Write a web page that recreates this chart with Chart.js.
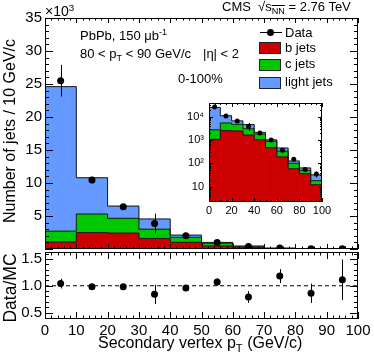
<!DOCTYPE html>
<html>
<head>
<meta charset="utf-8">
<script src="https://cdn.jsdelivr.net/npm/chart.js@4.4.0/dist/chart.umd.min.js"></script>
<style>
body { margin: 0; background: #fff; }
#wrap { position: relative; width: 374px; height: 359px; overflow: hidden; font-family: 'Liberation Sans', Arial, Helvetica, sans-serif; color: #000; }
canvas { position: absolute; left: 0; top: 0; }
.t { position: absolute; white-space: nowrap; line-height: 1; font-size: 13px; }
.sub { font-size: 70%; position: relative; top: 0.35em; }
.sup { font-size: 70%; position: relative; top: -0.5em; }
.box { position: absolute; box-sizing: border-box; width: 22px; height: 12px; border: 1px solid #222; }
.rot { position: absolute; white-space: nowrap; line-height: 1; transform: translate(-50%, -50%) rotate(-90deg); }
</style>
</head>
<body>
<div id="wrap">
  <canvas id="mainChart" width="374" height="359"></canvas>
  <canvas id="ratioChart" width="374" height="359"></canvas>
  <canvas id="insetChart" width="374" height="359"></canvas>

  <div class="t" style="left:45px;top:4px;font-size:14px;">&times;10<span class="sup">3</span></div>
  <div class="t" style="left:222px;top:0px;">CMS&nbsp;&nbsp;&radic;<span style="text-decoration:overline;">s<span class="sub">NN</span></span> = 2.76 TeV</div>
  <div class="t" style="left:80px;top:29px;">PbPb, 150 &mu;b<span class="sup">-1</span></div>
  <div class="t" style="left:80px;top:47px;">80 &lt; p<span class="sub">T</span> &lt; 90 GeV/c</div>
  <div class="t" style="left:203px;top:47px;">|&eta;| &lt; 2</div>
  <div class="t" style="left:178px;top:72px;">0-100%</div>

  <div style="position:absolute;left:260px;top:32px;width:22px;height:1px;background:#000;"></div>
  <div style="position:absolute;left:267px;top:29px;width:7px;height:7px;border-radius:50%;background:#000;"></div>
  <div class="t" style="left:285px;top:26px;">Data</div>
  <div class="box" style="left:259px;top:42px;background:#cc0000;"></div>
  <div class="t" style="left:285px;top:40.5px;">b jets</div>
  <div class="box" style="left:259px;top:59px;background:#00c800;"></div>
  <div class="t" style="left:285px;top:57px;">c jets</div>
  <div class="box" style="left:259px;top:77px;background:#6699ff;"></div>
  <div class="t" style="left:285px;top:74.5px;">light jets</div>

  <div class="rot" style="left:9.5px;top:131px;font-size:16px;">Number of jets / 10 GeV/c</div>
  <div class="rot" style="left:10.5px;top:288px;font-size:17.5px;">Data/MC</div>
  <div class="t" style="left:98px;top:335px;font-size:16px;">Secondary vertex p<span class="sub">T</span> (GeV/c)</div>
</div>

<script>
// histogram bins (GeV/c)
const binEdges = [0, 10, 20, 30, 40, 50, 60, 70, 80, 90, 100];

// MC stack, jets per bin
const bJets     = [1060, 2500, 2400, 1600, 1020, 460, 185, 58, 36, 12];
const cJets     = [1640, 2800, 2250, 1400,  750, 420, 145, 42, 14,  6];
const lightJets = [21900, 5500, 1850, 1550, 330, 120, 120, 25, 13, 14];

// data
const dataCounts = [25500, 10450, 6400, 3850, 2000, 1000, 360, 148, 54, 35];
const dataErrors = [2400, 500, 300, 1500, 150, 90, 50, 20, 9, 10];

// data / MC
const ratioValues = [1.04, 0.98, 0.98, 0.84, 0.96, 1.07, 0.79, 1.18, 0.86, 1.11];
const ratioErrors = [0.09, 0.03, 0.03, 0.18, 0.04, 0.07, 0.11, 0.13, 0.18, 0.38];
const ratioRef = 1;

// tick labels
const mainYTicks  = [0, 5000, 10000, 15000, 20000, 25000, 30000, 35000];
const ratioYTicks = [0.5, 1, 1.5];
const xTicks      = [0, 10, 20, 30, 40, 50, 60, 70, 80, 90, 100];
const insetXTicks = [0, 20, 40, 60, 80, 100];
const insetYTicks = [10, 100, 1000, 10000];

const RED = '#cc0000', GREEN = '#00c800', BLUE = '#6699ff', LINE = '#1a1a1a';
const W = 374, H = 359;

Chart.defaults.font.family = "'Liberation Sans', Arial, Helvetica, sans-serif";
Chart.defaults.color = '#000';

const centers = binEdges.slice(0, -1).map((e, i) => (e + binEdges[i + 1]) / 2);
const bc = bJets.map((v, i) => v + cJets[i]);
const total = bc.map((v, i) => v + lightJets[i]);

function range(a, b, step) {
    let out = [];
    for (let v = a; v <= b + step * 1e-6; v += step) out.push(+v.toFixed(6));
    return out;
}

function stepPoints(vals) {
    let pts = vals.map((v, i) => ({x: binEdges[i], y: v}));
    pts.push({x: binEdges[binEdges.length - 1], y: vals[vals.length - 1]});
    return pts;
}

// ROOT style frame with ticks inside
const rootFrame = {
    id: 'rootFrame',
    beforeDatasetsDraw(chart, args, o) {
        if (!o.fill) return;
        const a = chart.chartArea;
        chart.ctx.save();
        chart.ctx.fillStyle = '#fff';
        chart.ctx.fillRect(a.left, a.top, a.right - a.left, a.bottom - a.top);
        chart.ctx.restore();
    },
    afterDraw(chart, args, o) {
        const {ctx, chartArea: a} = chart;
        const x = chart.scales.x, y = chart.scales.y;
        ctx.save();
        ctx.strokeStyle = '#000';
        ctx.lineWidth = 1;
        ctx.beginPath();
        const xt = (v, len) => {
            const p = Math.round(x.getPixelForValue(v)) + 0.5;
            ctx.moveTo(p, a.bottom); ctx.lineTo(p, a.bottom - len);
            ctx.moveTo(p, a.top); ctx.lineTo(p, a.top + len);
        };
        const yt = (v, len) => {
            const p = Math.round(y.getPixelForValue(v)) + 0.5;
            ctx.moveTo(a.left, p); ctx.lineTo(a.left + len, p);
            ctx.moveTo(a.right, p); ctx.lineTo(a.right - len, p);
        };
        o.xMinor.forEach(v => xt(v, o.xLen[1]));
        o.xMajor.forEach(v => xt(v, o.xLen[0]));
        o.yMinor.forEach(v => yt(v, o.yLen[1]));
        o.yMajor.forEach(v => yt(v, o.yLen[0]));
        ctx.stroke();
        ctx.strokeRect(Math.round(a.left) + 0.5, Math.round(a.top) + 0.5,
            Math.round(a.right - a.left) - 1, Math.round(a.bottom - a.top) - 1);
        ctx.restore();
    }
};

// vertical error bars on datasets carrying an "errors" array
const errorBars = {
    id: 'errorBars',
    afterDatasetsDraw(chart) {
        const {ctx, chartArea: a} = chart;
        const y = chart.scales.y;
        chart.data.datasets.forEach((ds, i) => {
            if (!ds.errors) return;
            const meta = chart.getDatasetMeta(i);
            ctx.save();
            ctx.beginPath();
            ctx.rect(a.left, a.top, a.right - a.left, a.bottom - a.top);
            ctx.clip();
            ctx.strokeStyle = '#000';
            ctx.lineWidth = 1;
            ctx.beginPath();
            meta.data.forEach((pt, j) => {
                const v = ds.data[j].y, e = ds.errors[j];
                const px = Math.round(pt.x) + 0.5;
                ctx.moveTo(px, y.getPixelForValue(v + e));
                ctx.lineTo(px, y.getPixelForValue(Math.max(v - e, y.min)));
            });
            ctx.stroke();
            ctx.restore();
        });
    }
};

function histDatasets(pointRadius) {
    const outline = (vals, k) => ({
        type: 'line', data: stepPoints(vals), stepped: 'before', stack: 'o' + k,
        borderColor: LINE, borderWidth: 1, pointRadius: 0, fill: false
    });
    const bar = (vals, color) => ({
        type: 'bar', data: centers.map((c, i) => ({x: c, y: vals[i]})),
        backgroundColor: color, borderWidth: 0, barPercentage: 1, categoryPercentage: 1
    });
    return [
        {type: 'scatter', data: centers.map((c, i) => ({x: c, y: dataCounts[i]})), errors: dataErrors,
         pointRadius: pointRadius, pointBackgroundColor: '#000', pointBorderColor: '#000', pointBorderWidth: 0},
        outline(bJets, 1),
        outline(bc, 2),
        outline(total, 3),
        bar(bJets, RED),
        bar(cJets, GREEN),
        bar(lightJets, BLUE)
    ];
}

const common = {
    responsive: false,
    animation: false,
    events: [],
    plugins: {legend: {display: false}, tooltip: {enabled: false}}
};

// main histogram
new Chart(document.getElementById('mainChart'), {
    type: 'bar',
    data: {datasets: histDatasets(3.5)},
    options: {
        ...common,
        layout: {padding: {top: 18, right: 16, left: 0, bottom: 0}},
        plugins: {
            ...common.plugins,
            rootFrame: {xMajor: xTicks, xMinor: range(0, 100, 2), xLen: [5, 2.5],
                        yMajor: mainYTicks, yMinor: range(0, 35000, 1000), yLen: [8, 4]}
        },
        scales: {
            x: {type: 'linear', stacked: true, min: 0, max: 100, offset: false,
                grid: {display: false, drawTicks: false, offset: false}, border: {display: false},
                ticks: {display: false},
                afterFit(s) { s.height = H - 249; }},
            y: {type: 'linear', stacked: true, min: 0, max: 35000,
                grid: {display: false, drawTicks: false}, border: {display: false},
                ticks: {font: {size: 15}, padding: 3, autoSkip: false,
                        callback: v => v ? String(v / 1000) : ''},
                afterBuildTicks(s) { s.ticks = mainYTicks.map(v => ({value: v})); },
                afterFit(s) { s.width = 45; }}
        }
    },
    plugins: [rootFrame, errorBars]
});

// inset, log scale
const sup = {1: '', 2: '\u00b2', 3: '\u00b3', 4: '\u2074'};
new Chart(document.getElementById('insetChart'), {
    type: 'bar',
    data: {datasets: histDatasets(2.5)},
    options: {
        ...common,
        layout: {padding: {top: 103, right: W - 322, left: 0, bottom: 0}},
        plugins: {
            ...common.plugins,
            rootFrame: {fill: true, xMajor: insetXTicks, xMinor: range(0, 100, 5), xLen: [4, 2],
                        yMajor: insetYTicks,
                        yMinor: [1, 10, 100, 1000, 10000].flatMap(d => [2, 3, 4, 5, 6, 7, 8, 9].map(k => k * d))
                                  .filter(v => v > 2.2 && v < 38000),
                        yLen: [4, 2]}
        },
        scales: {
            x: {type: 'linear', stacked: true, min: 0, max: 100, offset: false,
                grid: {display: false, drawTicks: false, offset: false}, border: {display: false},
                ticks: {font: {size: 11}, padding: 2, autoSkip: false, maxRotation: 0},
                afterBuildTicks(s) { s.ticks = insetXTicks.map(v => ({value: v})); },
                afterFit(s) { s.height = H - 202; }},
            y: {type: 'logarithmic', stacked: true, min: 2.2, max: 38000,
                grid: {display: false, drawTicks: false}, border: {display: false},
                ticks: {font: {size: 11}, padding: 5, autoSkip: false,
                        callback: v => '10' + sup[Math.round(Math.log10(v))]},
                afterBuildTicks(s) { s.ticks = insetYTicks.map(v => ({value: v})); },
                afterFit(s) { s.width = 209; }}
        }
    },
    plugins: [rootFrame, errorBars]
});

// ratio panel
new Chart(document.getElementById('ratioChart'), {
    type: 'scatter',
    data: {
        datasets: [
            {data: centers.map((c, i) => ({x: c, y: ratioValues[i]})), errors: ratioErrors,
             pointRadius: 3.5, pointBackgroundColor: '#000', pointBorderColor: '#000', pointBorderWidth: 0},
            {type: 'line', data: [{x: 0, y: ratioRef}, {x: 100, y: ratioRef}],
             borderColor: '#000', borderWidth: 1, borderDash: [4, 3], pointRadius: 0, fill: false}
        ]
    },
    options: {
        ...common,
        layout: {padding: {top: 252, right: 16, left: 0, bottom: 0}},
        plugins: {
            ...common.plugins,
            rootFrame: {xMajor: xTicks, xMinor: range(0, 100, 2), xLen: [7, 3.5],
                        yMajor: ratioYTicks, yMinor: range(0.4, 1.6, 0.1), yLen: [8, 4]}
        },
        scales: {
            x: {type: 'linear', min: 0, max: 100,
                grid: {display: false, drawTicks: false}, border: {display: false},
                ticks: {font: {size: 15}, padding: 3, autoSkip: false, maxRotation: 0},
                afterBuildTicks(s) { s.ticks = xTicks.map(v => ({value: v})); },
                afterFit(s) { s.height = H - 319; }},
            y: {type: 'linear', min: 0.38, max: 1.63,
                grid: {display: false, drawTicks: false}, border: {display: false},
                ticks: {font: {size: 15}, padding: 3, autoSkip: false},
                afterBuildTicks(s) { s.ticks = ratioYTicks.map(v => ({value: v})); },
                afterFit(s) { s.width = 45; }}
        }
    },
    plugins: [rootFrame, errorBars]
});
</script>
</body>
</html>
